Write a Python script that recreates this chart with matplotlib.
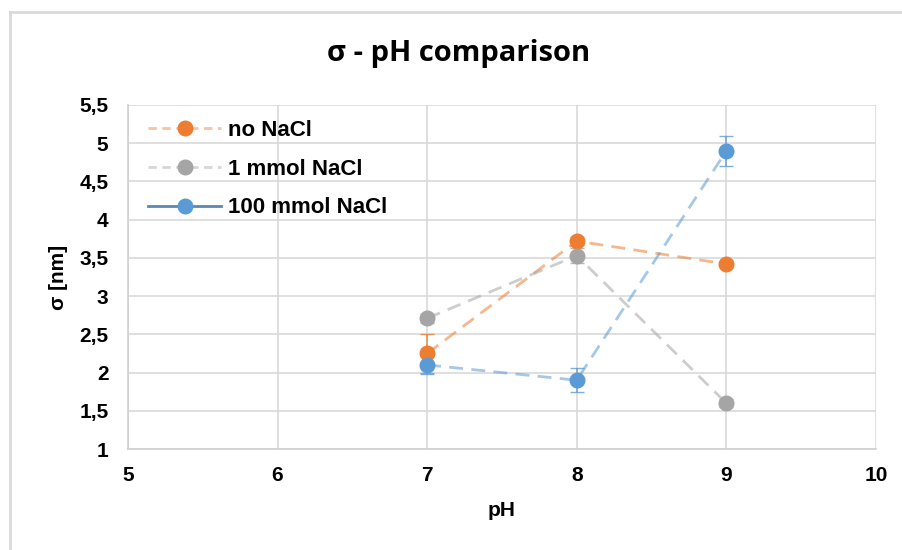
import matplotlib
matplotlib.use("Agg")
import matplotlib.pyplot as plt
from matplotlib.lines import Line2D

plt.rcParams['font.family'] = ['Liberation Sans', 'DejaVu Sans']

ph = [7, 8, 9]
no_nacl = [2.25, 3.72, 3.42]
no_nacl_err = [0.25, 0.05, 0.04]
mmol1 = [2.71, 3.53, 1.60]
mmol1_err = [0.06, 0.10, 0.05]
mmol100 = [2.10, 1.90, 4.90]
mmol100_err = [0.12, 0.16, 0.20]
labels = ["no NaCl", "1 mmol NaCl", "100 mmol NaCl"]
colors = ["#ED7D31", "#A5A5A5", "#5B9BD5"]
xticks = [5, 6, 7, 8, 9, 10]
yticks = [1, 1.5, 2, 2.5, 3, 3.5, 4, 4.5, 5, 5.5]

fig = plt.figure(figsize=(9.03, 5.5), dpi=100)
ax = fig.add_axes([0.1417, 0.1836, 0.8283, 0.6255])

series = [(no_nacl, no_nacl_err), (mmol1, mmol1_err), (mmol100, mmol100_err)]
for (vals, err), c in zip(series, colors):
    ax.plot(ph, vals, linestyle=(0, (5, 3)), color=c, alpha=0.55, lw=2, zorder=3)
    ax.errorbar(ph, vals, yerr=err, fmt='none', ecolor=c, alpha=0.8,
                elinewidth=1.2, capsize=5, zorder=4)
    ax.plot(ph, vals, 'o', color=c, ms=10.5, zorder=5)

ax.set_xlim(5, 10)
ax.set_ylim(1, 5.5)
ax.set_xticks(xticks)
ax.set_yticks(yticks)
ax.set_xticklabels([str(t) for t in xticks], fontsize=15, fontweight='bold')
ax.set_yticklabels([str(t).replace('.', ',') for t in yticks], fontsize=15, fontweight='bold')
ax.tick_params(axis='x', length=0, pad=12)
ax.tick_params(axis='y', length=0, pad=14)
ax.grid(True, color='#D9D9D9', lw=1.2)
ax.set_axisbelow(True)
for s in ['top', 'right']:
    ax.spines[s].set_visible(False)
for s in ['left', 'bottom']:
    ax.spines[s].set_color('#D0D0D0')
    ax.spines[s].set_linewidth(1.2)

ax.set_xlabel("pH", fontsize=15, fontweight='bold', labelpad=12)
ax.set_ylabel("σ [nm]", fontsize=15, fontweight='bold', labelpad=8)
fig.text(0.508, 0.903, "σ - pH comparison", ha='center', va='center',
         fontsize=21, fontweight='bold', family=['Open Sans', 'DejaVu Sans'])

def handle(c, ls, lcolor, la):
    line = Line2D([], [], color=lcolor, ls=ls, lw=2, alpha=la)
    mk = Line2D([], [], color=c, ls='none', marker='o', ms=10.5)
    return (line, mk)

handles = [
    handle(colors[0], (0, (3, 2)), colors[0], 0.45),
    handle(colors[1], (0, (3, 2)), colors[1], 0.45),
    handle(colors[2], '-', "#4A7BA6", 0.9),
]
leg = ax.legend(handles, labels, loc='upper left', bbox_to_anchor=(0.0, 1.015),
                frameon=False, prop={'size': 16, 'weight': 'bold'},
                handlelength=3.3, labelspacing=0.8, handletextpad=0.3)

# figure border (left and top)
fig.add_artist(Line2D([10/903, 10/903], [0, 1 - 12/550], color='#D9D9D9', lw=2, transform=fig.transFigure))
fig.add_artist(Line2D([10/903, 1], [1 - 12/550, 1 - 12/550], color='#D9D9D9', lw=2, transform=fig.transFigure))

fig.savefig("out.png", dpi=100)
